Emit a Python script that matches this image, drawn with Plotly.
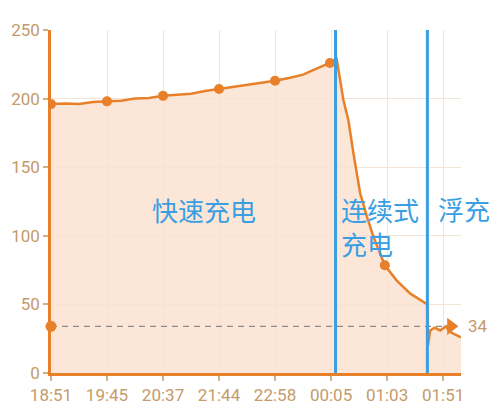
import plotly.graph_objects as go

# x is sample position (ticks evenly spaced), y is value
tick_labels = ["18:51", "19:45", "20:37", "21:44", "22:58", "00:05", "01:03", "01:51"]

xs = [0, 0.25, 0.5, 0.75, 1, 1.25, 1.5, 1.75, 2, 2.25, 2.5, 2.75, 3, 3.25, 3.5, 3.75,
      4, 4.25, 4.5, 4.75, 4.98, 5.05, 5.10, 5.22, 5.31, 5.40, 5.46, 5.52, 5.64, 5.76,
      5.96, 6.17, 6.41, 6.60, 6.72, 6.73, 6.77, 6.85, 6.95, 7.05, 7.12, 7.22, 7.32]
ys = [196, 196.5, 196, 197.5, 198, 198.5, 200, 200.5, 202, 203, 203.5, 205.5, 207, 208, 210, 211,
      213, 215, 217.5, 222, 226, 228, 229, 199, 184, 160, 145, 131, 114, 99,
      78.5, 67.5, 58, 53, 50, 20, 31, 33, 31, 34, 30, 28, 26]

dot_x = [0, 1, 2, 3, 4, 4.98, 5.96]
dot_y = [196, 198, 202, 207, 213, 226, 78.5]

float_level = 34
phase_bounds = [5.08, 6.72]
phase_names = ["快速充电", "连续式<br>充电", "浮充"]
phase_pos_x = [2.73, 5.15, 6.88]
phase_pos_y = [119, 107, 120]

orange = "#E8802A"
blue = "#3A9FE2"
tan = "#C49A6C"

fig = go.Figure()

fig.add_trace(go.Scatter(x=xs, y=ys, mode="lines", fill="tozeroy",
                         fillcolor="rgba(251,226,209,0.85)",
                         line=dict(color=orange, width=2.5), hoverinfo="skip"))
fig.add_trace(go.Scatter(x=dot_x, y=dot_y, mode="markers",
                         marker=dict(color=orange, size=10)))

# dashed reference level
fig.add_trace(go.Scatter(x=[0, 7.12], y=[float_level, float_level], mode="lines",
                         line=dict(color="#8F8A85", width=1.3, dash="6px,5px")))
fig.add_trace(go.Scatter(x=[0], y=[float_level], mode="markers",
                         marker=dict(color=orange, size=11), cliponaxis=False))
fig.add_trace(go.Scatter(x=[7.14], y=[float_level], mode="markers",
                         marker=dict(color=orange, size=15, symbol="triangle-right")))

for b in phase_bounds:
    fig.add_vline(x=b, line=dict(color=blue, width=3), layer="above")

for name, px_, py_ in zip(phase_names, phase_pos_x, phase_pos_y):
    anchor = "center" if name == "快速充电" else "left"
    fig.add_annotation(x=px_, y=py_, text=name, showarrow=False, xanchor=anchor,
                       align="left", font=dict(size=26, color=blue, family="Noto Sans CJK SC"))

fig.add_annotation(x=1, xref="paper", xanchor="left", xshift=5, y=float_level,
                   text=str(float_level), showarrow=False,
                   font=dict(size=17, color=tan, family="Roboto"))

fig.update_layout(
    width=492, height=412,
    margin=dict(l=43, r=39, t=22, b=47, autoexpand=False),
    paper_bgcolor="white", plot_bgcolor="white",
    showlegend=False,
    font=dict(family="Roboto", size=17, color=tan),
)
fig.update_xaxes(range=[0, 7.32], tickvals=list(range(len(tick_labels))), ticktext=tick_labels,
                 showgrid=True, gridcolor="#F1E5DA", gridwidth=1, zeroline=False,
                 showline=True, linecolor=orange, linewidth=2.5, automargin=False,
                 ticks="outside", ticklen=5, tickcolor="#D0AE88", tickwidth=1.5)
fig.update_yaxes(range=[0, 250], tickvals=[0, 50, 100, 150, 200, 250],
                 showgrid=True, gridcolor="#F1E5DA", gridwidth=1, zeroline=False,
                 showline=True, linecolor=orange, linewidth=2.5, automargin=False,
                 ticks="outside", ticklen=5, tickcolor="#D0AE88", tickwidth=1.5)

fig.write_html("out.html")
